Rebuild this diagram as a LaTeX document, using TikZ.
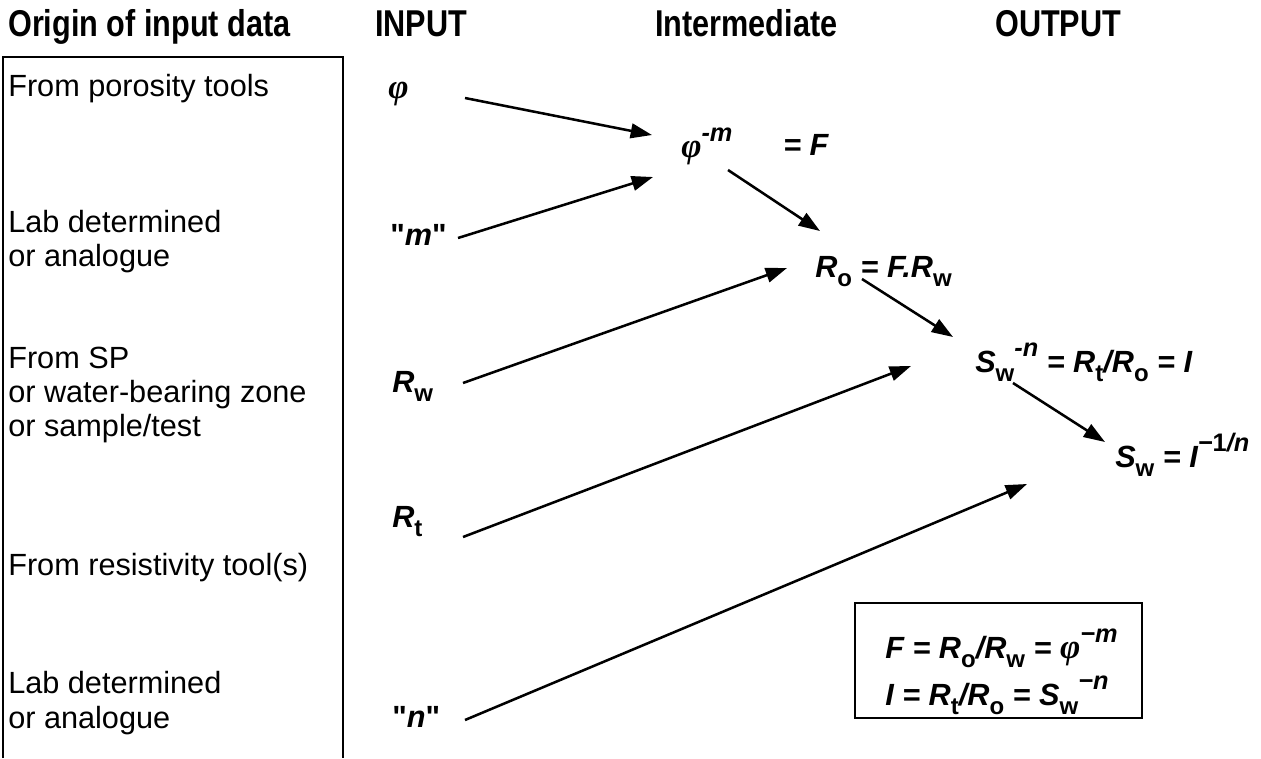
\documentclass[tikz,border=0pt]{standalone}
\usepackage{fontspec}
\setmainfont{Liberation Sans}
\newfontfamily\phifont{Liberation Serif}
\newfontfamily\qfont{Liberation Sans}
\newfontfamily\hdrfont{Liberation Sans}[FakeStretch=0.82]
\usetikzlibrary{arrows.meta}
\newcommand{\lsb}[1]{\raisebox{-0.32em}{\fontsize{18}{18}\selectfont\upshape\bfseries #1}}
\newcommand{\lsp}[1]{\raisebox{0.5em}{\fontsize{19}{19}\selectfont\bfseries\itshape #1}}
\newcommand{\phis}{{\fontsize{26}{26}\selectfont\phifont\bfseries\itshape φ}}
\newcommand{\qq}{{\qfont\upshape\bfseries"}}
\tikzset{
  hdr/.style={anchor=base west, inner sep=0pt, font=\fontsize{28}{28}\selectfont\hdrfont\bfseries},
  txt/.style={anchor=base west, inner sep=0pt, font=\fontsize{23}{23}\selectfont},
  eq/.style={anchor=base west, inner sep=0pt, font=\fontsize{23}{23}\selectfont\bfseries\itshape},
  arr/.style={line width=1.9pt, -{Triangle[length=16pt,width=11pt]}},
  frame/.style={line width=1.9pt}
}
\begin{document}
\begin{tikzpicture}[x=0.75pt,y=-0.75pt]
\useasboundingbox (0,0) rectangle (1261,758);
% headers
\node[hdr] (h1) at (8,36) {Origin of input data};
\node[hdr] (h2) at (375,36) {INPUT};
\node[hdr] (h3) at (655,36) {Intermediate};
\node[hdr] (h4) at (995,36) {OUTPUT};
% left frame
\draw[frame] (3,758) -- (3,57) -- (343,57) -- (343,758);
% left texts
\node[txt] (o1) at (8,96) {From porosity tools};
\node[txt] (o2a) at (8,232) {Lab determined};
\node[txt] (o2b) at (8,266) {or analogue};
\node[txt] (o3a) at (8,368) {From SP};
\node[txt] (o3b) at (8,402) {or water-bearing zone};
\node[txt] (o3c) at (8,436) {or sample/test};
\node[txt] (o4) at (8,575) {From resistivity tool(s)};
\node[txt] (o5a) at (8,693) {Lab determined};
\node[txt] (o5b) at (8,728) {or analogue};
% inputs
\node[eq] (phi) at (388,98) {\phis};
\node[eq] (m) at (390,245) {\qq m\qq};
\node[eq] (rw) at (392,392) {R\lsb{w}};
\node[eq] (rt) at (392,527) {R\lsb{t}};
\node[eq] (n) at (392,727) {\qq n\qq};
% intermediate / output
\node[eq] (phim) at (681,157) {\phis\lsp{-m}};
\node[eq] (eqF) at (783,155) {= F};
\node[eq] (ro) at (815,277) {R\lsb{o} = F.R\lsb{w}};
\node[eq] (swn) at (975,372) {S\lsb{w}\lsp{-n} = R\lsb{t}/R\lsb{o} = I};
\node[eq] (sw) at (1115,467) {S\lsb{w} = I\lsp{−\textup{1}/n}};
% summary box
\draw[line width=1.6pt] (855,603) rectangle (1142,718);
\node[eq] (b1) at (885,658) {F = R\lsb{o}/R\lsb{w} = \phis\lsp{−m}};
\node[eq] (b2) at (885,705) {I = R\lsb{t}/R\lsb{o} = S\lsb{w}\lsp{−n}};
% arrow end points
\coordinate (a1s) at (465,98);  \coordinate (a1e) at (652,135);
\coordinate (a2s) at (458,238); \coordinate (a2e) at (653,177);
\coordinate (a3s) at (728,170); \coordinate (a3e) at (820,231);
\coordinate (a4s) at (463,383); \coordinate (a4e) at (787,268);
\coordinate (a5s) at (862,279); \coordinate (a5e) at (953,337);
\coordinate (a6s) at (463,537); \coordinate (a6e) at (911,366);
\coordinate (a7s) at (1013,383); \coordinate (a7e) at (1105,442);
\coordinate (a8s) at (465,720); \coordinate (a8e) at (1027,484);
\draw[arr] (a1s) -- (a1e);
\draw[arr] (a2s) -- (a2e);
\draw[arr] (a3s) -- (a3e);
\draw[arr] (a4s) -- (a4e);
\draw[arr] (a5s) -- (a5e);
\draw[arr] (a6s) -- (a6e);
\draw[arr] (a7s) -- (a7e);
\draw[arr] (a8s) -- (a8e);
\end{tikzpicture}
\end{document}
